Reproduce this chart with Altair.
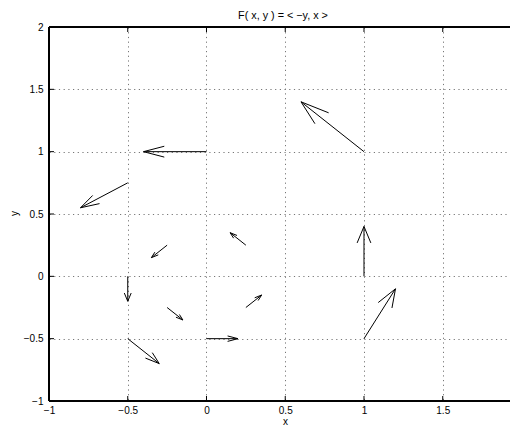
import altair as alt
import pandas as pd

# Quiver data: start points and vector components
xs = [0, 1, -0.5, 1, 1, 0, -0.5, -0.5, -0.25, 0.25, 0.25, -0.25]
ys = [1, 1, 0.75, 0, -0.5, -0.5, -0.5, 0, 0.25, 0.25, -0.25, -0.25]
us = [-0.4, -0.4, -0.3, 0, 0.2, 0.2, 0.2, 0, -0.1, -0.1, 0.1, 0.1]
vs = [0, 0.4, -0.2, 0.4, 0.4, 0, -0.2, -0.2, -0.1, 0.1, 0.1, -0.1]

x_ticks = [-1, -0.5, 0, 0.5, 1, 1.5]
y_ticks = [-1, -0.5, 0, 0.5, 1, 1.5, 2]
title_text = "F( x, y ) = < \u2212y, x >"

# MATLAB-like arrow heads
alpha = 0.33
beta = 0.33
rows = []
for x, y, u, v in zip(xs, ys, us, vs):
    ex, ey = x + u, y + v
    rows.append(dict(x=x, y=y, x2=ex, y2=ey))
    rows.append(dict(x=ex - alpha * (u + beta * v), y=ey - alpha * (v - beta * u), x2=ex, y2=ey))
    rows.append(dict(x=ex - alpha * (u - beta * v), y=ey - alpha * (v + beta * u), x2=ex, y2=ey))
seg = pd.DataFrame(rows)

W, H = 461, 374
FONT = "Liberation Sans"

xscale = alt.Scale(domain=[-1, 1.927], nice=False, zero=False)
yscale = alt.Scale(domain=[-1, 2], nice=False, zero=False)

xaxis = alt.Axis(values=x_ticks, format="~g", title="x", labelFlush=False, labelPadding=4,
                 titleX=236, titleY=23, titleBaseline="alphabetic")
yaxis = alt.Axis(values=y_ticks, format="~g", title="y", labelFlush=False, labelPadding=6,
                 titleX=-35, titleY=H / 2 - 1, titleAngle=-90, titleBaseline="middle")

arrows = alt.Chart(seg).mark_rule(color="black", strokeWidth=1).encode(
    x=alt.X("x:Q", scale=xscale, axis=xaxis),
    y=alt.Y("y:Q", scale=yscale, axis=yaxis),
    x2="x2:Q",
    y2="y2:Q",
)

xt = pd.DataFrame({"t": x_ticks})
yt = pd.DataFrame({"t": y_ticks})

tick_bottom = alt.Chart(xt).mark_rule(color="black").encode(
    x=alt.X("t:Q", scale=xscale), y=alt.value(H), y2=alt.value(H - 5))
tick_top = alt.Chart(xt).mark_rule(color="black").encode(
    x=alt.X("t:Q", scale=xscale), y=alt.value(0), y2=alt.value(5))
tick_left = alt.Chart(yt).mark_rule(color="black").encode(
    y=alt.Y("t:Q", scale=yscale), x=alt.value(0), x2=alt.value(5))

border_top = alt.Chart(xt).mark_rule(color="black", strokeWidth=1.2).encode(
    x=alt.value(0), x2=alt.value(W), y=alt.value(0))
border_bottom = alt.Chart(xt).mark_rule(color="black", strokeWidth=1.2).encode(
    x=alt.value(0), x2=alt.value(W), y=alt.value(H))
border_left = alt.Chart(xt).mark_rule(color="black", strokeWidth=1.2).encode(
    x=alt.value(0), y=alt.value(0), y2=alt.value(H))

chart = alt.layer(
    arrows, tick_bottom, tick_top, tick_left, border_top, border_bottom, border_left
).properties(
    width=W,
    height=H,
    title=alt.TitleParams(title_text, font=FONT, fontSize=10.8, fontWeight="normal",
                          color="black", offset=1, dx=3.5),
    autosize=alt.AutoSizeParams(type="none"),
    padding={"left": 41, "top": 19, "right": 0, "bottom": 24},
).configure_view(stroke=None).configure_axis(
    labelFont=FONT, labelFontSize=10, labelColor="black",
    titleFont=FONT, titleFontSize=10, titleColor="black", titleFontWeight="normal",
    ticks=False, tickSize=0, domain=False,
    grid=True, gridDash=[1.2, 3.5], gridColor="#777777", gridOpacity=1, gridWidth=1,
)

chart.save("out.html", embed_options={"renderer": "svg", "actions": False})
